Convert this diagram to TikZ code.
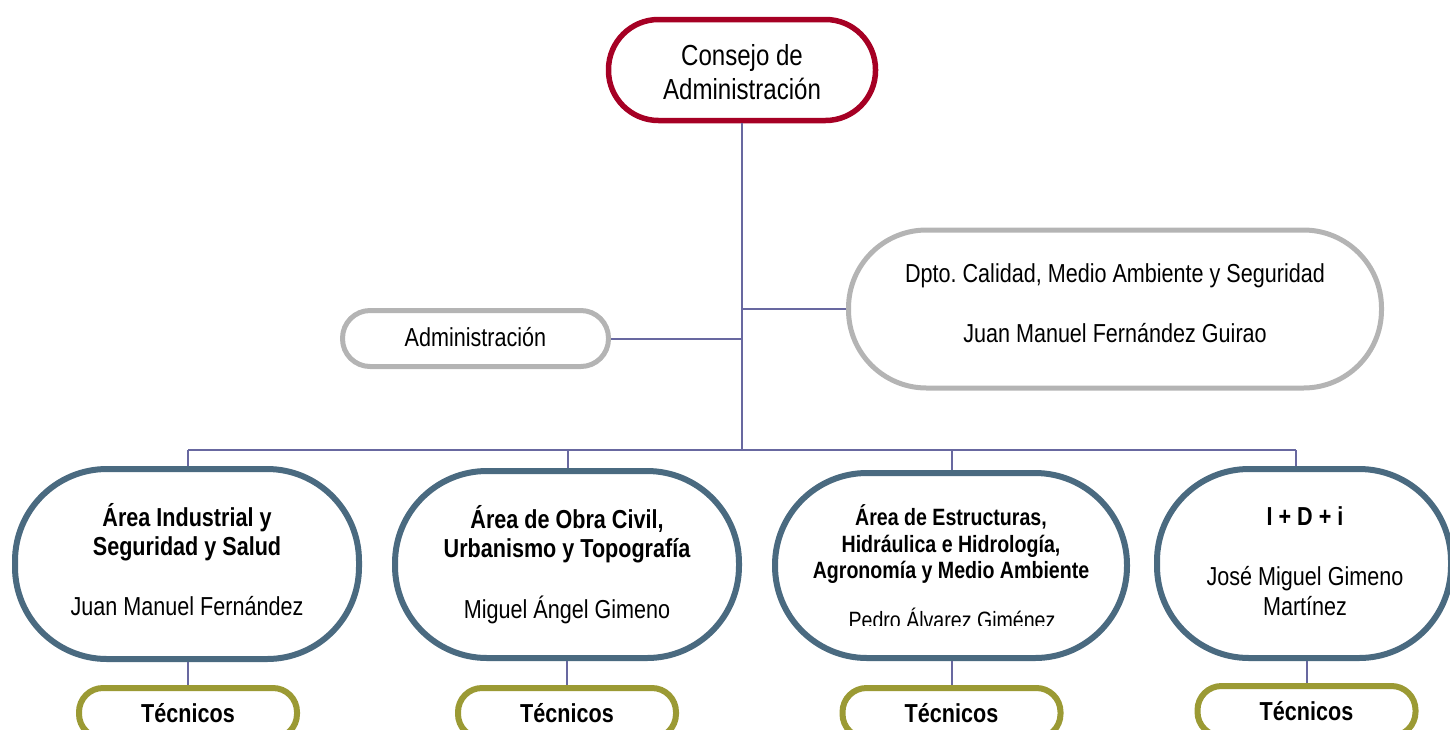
\documentclass[tikz,border=0pt]{standalone}
\usepackage{fontspec}
\setmainfont{Liberation Sans}[FakeStretch=0.83]
\definecolor{crimson}{RGB}{166,0,36}
\definecolor{greyb}{RGB}{180,180,180}
\definecolor{slate}{RGB}{74,106,128}
\definecolor{olivec}{RGB}{155,154,52}
\definecolor{conn}{RGB}{104,104,160}
\frenchspacing
\begin{document}
\begin{tikzpicture}[x=0.5pt,y=-0.5pt,
  boxbase/.style={draw, fill=white, inner sep=0pt},
  topbox/.style={boxbase, draw=crimson, line width=2.75pt, minimum width=133.5pt, minimum height=50.5pt, rounded corners=25pt},
  greybox/.style={boxbase, draw=greyb, line width=2.5pt},
  areabox/.style={boxbase, draw=slate, line width=3pt, rounded corners=46pt},
  tecbox/.style={boxbase, draw=olivec, line width=3pt, minimum width=109pt, minimum height=25pt, rounded corners=12pt},
  link/.style={draw=conn, line width=1pt},
  txt/.style={inner sep=0pt, anchor=base, font=\fontsize{13}{15}\selectfont},
  btxt/.style={txt, font=\fontsize{13}{15}\selectfont\bfseries},
  stxt/.style={txt, font=\fontsize{11.8}{13}\selectfont},
  sbtxt/.style={txt, font=\fontsize{11.8}{13}\selectfont\bfseries},
  ltxt/.style={txt, font=\fontsize{14.5}{17}\selectfont}]
\useasboundingbox (0,0) rectangle (1450,729);
\clip (0,0) rectangle (1450,729);
% boxes
\node[topbox] (cons) at (742,70) {};
\node[greybox, minimum width=133pt, minimum height=28pt, rounded corners=13.8pt] (adm) at (475.5,338.5) {};
\node[greybox, minimum width=266.5pt, minimum height=79pt, rounded corners=39pt] (dpto) at (1115,309) {};
\node[areabox, minimum width=172pt, minimum height=95pt] (a1) at (187,564) {};
\node[areabox, minimum width=172pt, minimum height=93.5pt] (a2) at (567,564.5) {};
\node[areabox, minimum width=176pt, minimum height=92.5pt] (a3) at (951,565.5) {};
\node[areabox, minimum width=147pt, minimum height=94.5pt] (a4) at (1304,563.5) {};
\node[tecbox] (t1) at (188,713) {};
\node[tecbox] (t2) at (567,713) {};
\node[tecbox] (t3) at (951.5,713) {};
\node[tecbox] (t4) at (1306.5,711) {};
% connectors
\coordinate (busL) at (188,450);
\coordinate (bus2) at (568,450);
\coordinate (busC) at (742,450);
\coordinate (bus3) at (952,450);
\coordinate (busR) at (1296,450);
\draw[link] (cons.south) -- (busC);
\draw[link] (busL) -- (busR);
\draw[link] (busL) -- (busL |- a1.north);
\draw[link] (bus2) -- (bus2 |- a2.north);
\draw[link] (bus3) -- (bus3 |- a3.north);
\draw[link] (busR) -- (busR |- a4.north);
\draw[link] (adm.east) -- (adm.east -| busC);
\draw[link] (dpto.west) -- (dpto.west -| busC);
\draw[link] (t1.north |- a1.south) -- (t1.north);
\draw[link] (t2.north |- a2.south) -- (t2.north);
\draw[link] (t3.north |- a3.south) -- (t3.north);
\draw[link] (t4.north |- a4.south) -- (t4.north);
% texts
\node[ltxt] (cons1) at (742,65) {Consejo de};
\node[ltxt] (cons2) at (742,99) {Administración};
\node[txt] (admt) at (475.5,346) {Administración};
\node[txt] (dpto1) at (1115,282) {Dpto. Calidad, Medio Ambiente y Seguridad};
\node[txt] (dpto2) at (1115,342) {Juan Manuel Fernández Guirao};
\node[btxt] (a1l1) at (187,526) {Área Industrial y};
\node[btxt] (a1l2) at (187,555) {Seguridad y Salud};
\node[txt] (a1l3) at (187,615) {Juan Manuel Fernández};
\node[btxt] (a2l1) at (567,528) {Área de Obra Civil,};
\node[btxt] (a2l2) at (567,557) {Urbanismo y Topografía};
\node[txt] (a2l3) at (567,618) {Miguel Ángel Gimeno};
\node[sbtxt] (a3l1) at (951,525) {Área de Estructuras,};
\node[sbtxt] (a3l2) at (951,552) {Hidráulica e Hidrología,};
\node[sbtxt] (a3l3) at (951,578) {Agronomía y Medio Ambiente};
\begin{scope}
\clip (780,590) rectangle (1120,625);
\node[stxt] (a3l4) at (952,628) {Pedro Álvarez Giménez};
\end{scope}
\node[btxt] (a4l1) at (1305,525) {I + D + i};
\node[txt] (a4l2) at (1305,585) {José Miguel Gimeno};
\node[txt] (a4l3) at (1305,615) {Martínez};
\node[btxt] (t1t) at (188,722) {Técnicos};
\node[btxt] (t2t) at (567,722) {Técnicos};
\node[btxt] (t3t) at (951.5,722) {Técnicos};
\node[btxt] (t4t) at (1306.5,720) {Técnicos};
\end{tikzpicture}
\end{document}
